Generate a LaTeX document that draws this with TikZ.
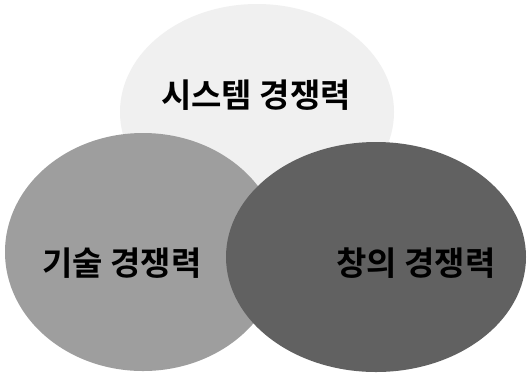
\documentclass[tikz,border=0pt]{standalone}
\usepackage{fontspec}
\newfontfamily\kr{Noto Sans CJK KR}[BoldFont={Noto Sans CJK KR Bold}]
\begin{document}
\begin{tikzpicture}[x=1pt,y=-1pt,
  lab/.style={font=\kr\bfseries\fontsize{33}{35}\selectfont, text=black, inner sep=0pt}]
\useasboundingbox[fill=white] (0,0) rectangle (529,373);
\fill[black!6] (257,112) ellipse [x radius=137, y radius=108];
\fill[black!38] (143,252) ellipse [x radius=138, y radius=119];
\fill[black!62] (376,257) ellipse [x radius=150, y radius=115];
\node[lab] (sys) at (256,95) {시스템 경쟁력};
\node[lab] (tech) at (122,263) {기술 경쟁력};
\node[lab] (cre) at (416,263) {창의 경쟁력};
\end{tikzpicture}
\end{document}
